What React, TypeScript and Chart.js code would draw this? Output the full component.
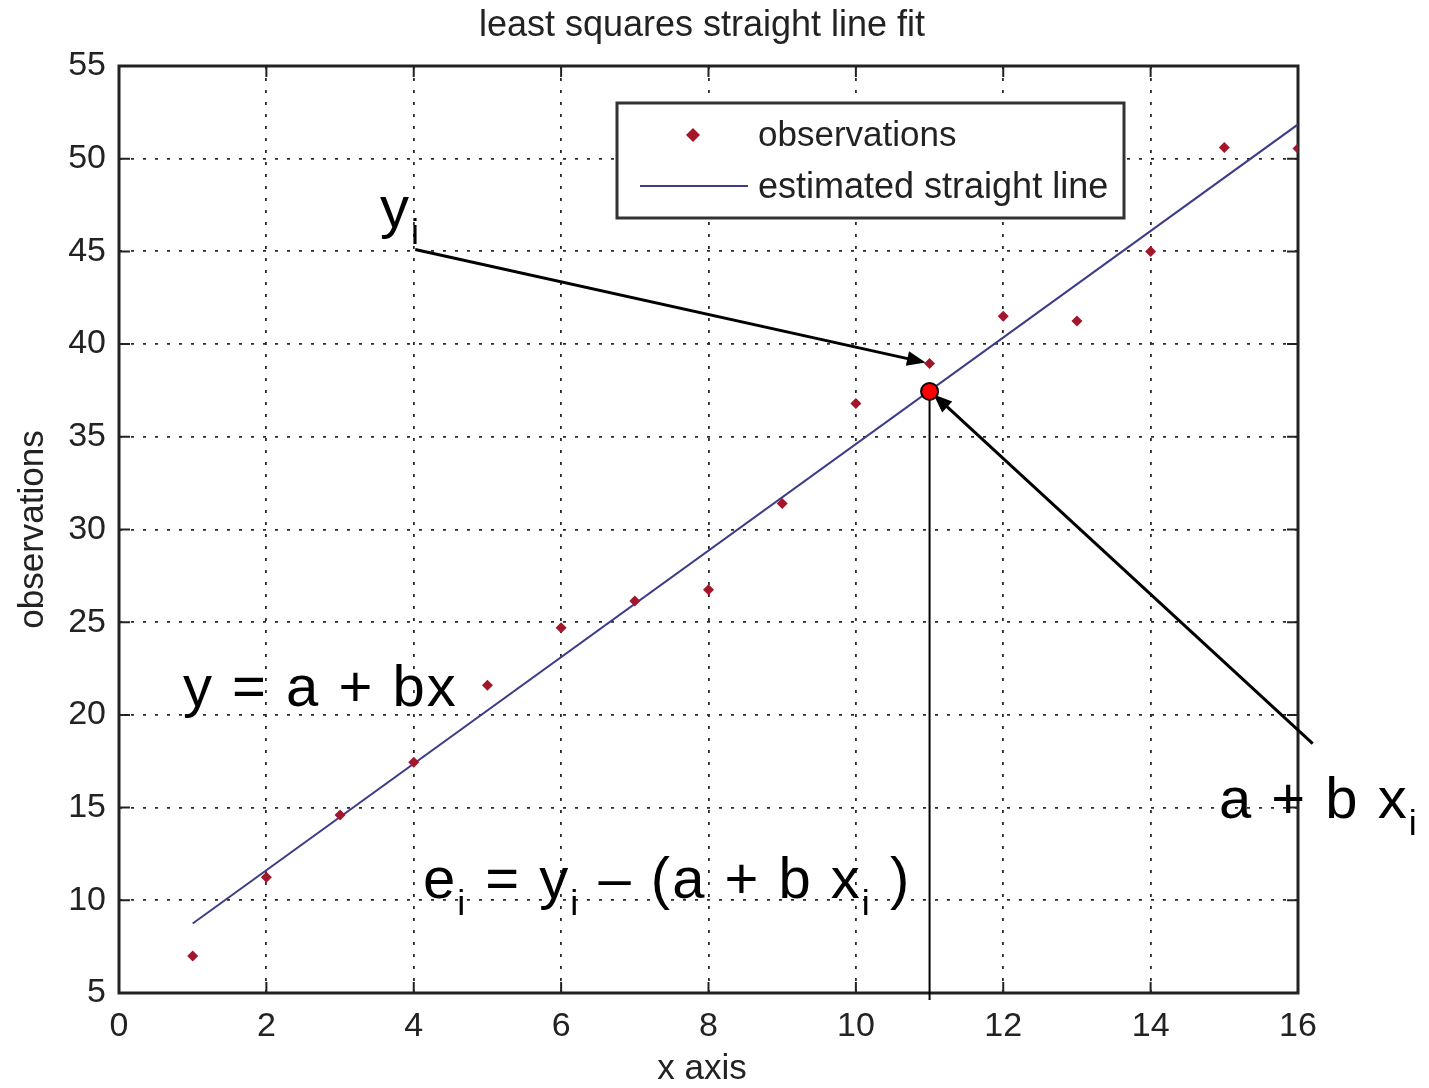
import React, { useEffect, useRef } from "react";
import { Chart, registerables } from "chart.js";

Chart.register(...registerables);

// Observed samples
const xValues = [1, 2, 3, 4, 5, 6, 7, 8, 9, 10, 11, 12, 13, 14, 15, 16];
const observations = [7.0, 11.25, 14.6, 17.45, 21.6, 24.7, 26.15, 26.75, 31.4, 36.8, 38.95, 41.5, 41.25, 45.0, 50.6, 50.55];

// Fitted line end points
const fitX = [1, 16];
const fitY = [8.75, 51.85];

// Highlighted point on the fitted line at x_i
const highlightX = [11];
const highlightY = [37.45];

// Axis ticks
const xTicks = [0, 2, 4, 6, 8, 10, 12, 14, 16];
const yTicks = [5, 10, 15, 20, 25, 30, 35, 40, 45, 50, 55];

const TITLE = "least squares straight line fit";
const X_LABEL = "x axis";
const Y_LABEL = "observations";
const LEGEND_LABELS = ["observations", "estimated straight line"];

const OBS_COLOR = "#a3162c";
const LINE_COLOR = "#3c3c88";
const AXIS_FONT = "'Liberation Sans', Arial, sans-serif";
const NOTE_FONT = "'Liberation Sans', Arial, sans-serif";

function drawArrow(ctx: CanvasRenderingContext2D, x1: number, y1: number, x2: number, y2: number) {
  const ang = Math.atan2(y2 - y1, x2 - x1);
  const head = 20;
  const spread = 0.38;
  ctx.save();
  ctx.strokeStyle = "#000";
  ctx.fillStyle = "#000";
  ctx.lineWidth = 3;
  ctx.beginPath();
  ctx.moveTo(x1, y1);
  ctx.lineTo(x2 - Math.cos(ang) * head * 0.8, y2 - Math.sin(ang) * head * 0.8);
  ctx.stroke();
  ctx.beginPath();
  ctx.moveTo(x2, y2);
  ctx.lineTo(x2 - head * Math.cos(ang - spread), y2 - head * Math.sin(ang - spread));
  ctx.lineTo(x2 - head * Math.cos(ang + spread), y2 - head * Math.sin(ang + spread));
  ctx.closePath();
  ctx.fill();
  ctx.restore();
}

// Draws text made of [text, isSubscript] parts
function drawRich(ctx: CanvasRenderingContext2D, parts: [string, boolean][], x: number, y: number, size: number) {
  let cx = x;
  ctx.save();
  ctx.fillStyle = "#000";
  ctx.textBaseline = "alphabetic";
  ctx.textAlign = "left";
  (ctx as any).letterSpacing = "2px";
  for (const [t, sub] of parts) {
    const s = sub ? size * 0.62 : size;
    ctx.font = `${s}px ${NOTE_FONT}`;
    ctx.fillText(t, cx, sub ? y + size * 0.3 : y);
    cx += ctx.measureText(t).width;
  }
  ctx.restore();
}

const decorations = {
  id: "decorations",
  beforeDatasetsDraw(chart: any) {
    const { ctx, chartArea: a } = chart;
    const xs = chart.scales.x;
    const ys = chart.scales.y;
    // inward tick marks on all four sides
    ctx.save();
    ctx.strokeStyle = "#222";
    ctx.lineWidth = 2;
    const tl = 11;
    for (const v of xTicks) {
      const px = xs.getPixelForValue(v);
      ctx.beginPath();
      ctx.moveTo(px, a.bottom);
      ctx.lineTo(px, a.bottom - tl);
      ctx.moveTo(px, a.top);
      ctx.lineTo(px, a.top + tl);
      ctx.stroke();
    }
    for (const v of yTicks) {
      const py = ys.getPixelForValue(v);
      ctx.beginPath();
      ctx.moveTo(a.left, py);
      ctx.lineTo(a.left + tl, py);
      ctx.moveTo(a.right, py);
      ctx.lineTo(a.right - tl, py);
      ctx.stroke();
    }
    // axes box
    ctx.lineWidth = 3;
    ctx.strokeRect(a.left, a.top, a.right - a.left, a.bottom - a.top);
    ctx.restore();
  },
  afterDraw(chart: any) {
    const { ctx, chartArea: a } = chart;
    const xs = chart.scales.x;
    const ys = chart.scales.y;

    // title and axis labels
    ctx.save();
    ctx.fillStyle = "#222";
    ctx.textAlign = "center";
    ctx.textBaseline = "middle";
    ctx.font = `36px ${AXIS_FONT}`;
    ctx.fillText(TITLE, 702, 26);
    ctx.font = `35px ${AXIS_FONT}`;
    ctx.fillText(X_LABEL, 702, 1069);
    ctx.translate(33, (a.top + a.bottom) / 2);
    ctx.rotate(-Math.PI / 2);
    ctx.fillText(Y_LABEL, 0, 0);
    ctx.restore();

    // legend
    const lx = 617, ly = 103, lw = 507, lh = 115;
    ctx.save();
    ctx.fillStyle = "#fff";
    ctx.fillRect(lx, ly, lw, lh);
    ctx.strokeStyle = "#333";
    ctx.lineWidth = 3;
    ctx.strokeRect(lx, ly, lw, lh);
    ctx.fillStyle = OBS_COLOR;
    ctx.beginPath();
    ctx.moveTo(693, 128);
    ctx.lineTo(700, 135);
    ctx.lineTo(693, 142);
    ctx.lineTo(686, 135);
    ctx.closePath();
    ctx.fill();
    ctx.strokeStyle = LINE_COLOR;
    ctx.lineWidth = 2;
    ctx.beginPath();
    ctx.moveTo(640, 186);
    ctx.lineTo(748, 186);
    ctx.stroke();
    ctx.fillStyle = "#222";
    ctx.textAlign = "left";
    ctx.textBaseline = "middle";
    ctx.font = `35px ${AXIS_FONT}`;
    ctx.fillText(LEGEND_LABELS[0], 758, 136);
    ctx.font = `36px ${AXIS_FONT}`;
    ctx.fillText(LEGEND_LABELS[1], 758, 188);
    ctx.restore();

    // residual guide: from the fitted point down past the x axis
    const hx = xs.getPixelForValue(highlightX[0]);
    const hy = ys.getPixelForValue(highlightY[0]);
    ctx.save();
    ctx.strokeStyle = "#000";
    ctx.lineWidth = 2;
    ctx.beginPath();
    ctx.moveTo(hx, hy);
    ctx.lineTo(hx, a.bottom + 7);
    ctx.stroke();
    ctx.restore();

    // arrows to y_i and to a + b x_i
    const ox = xs.getPixelForValue(xValues[10]);
    const oy = ys.getPixelForValue(observations[10]);
    drawArrow(ctx, xs.getPixelForValue(4.02), ys.getPixelForValue(45.1), ox - 4, oy - 1);
    drawArrow(ctx, xs.getPixelForValue(16.2), ys.getPixelForValue(18.45), hx + 4, hy + 3);

    // highlighted point
    ctx.save();
    ctx.fillStyle = "#ff0000";
    ctx.strokeStyle = "#000";
    ctx.lineWidth = 2;
    ctx.beginPath();
    ctx.arc(hx, hy, 8.5, 0, Math.PI * 2);
    ctx.fill();
    ctx.stroke();
    ctx.restore();

    // equations
    drawRich(ctx, [["y", false], ["i", true]], 380, 227, 58);
    drawRich(ctx, [["y = a + bx", false]], 183, 706, 58);
    drawRich(ctx, [["e", false], ["i", true], [" = y", false], ["i", true], [" \u2013 (a + b x", false], ["i", true], [" )", false]], 423, 898, 58);
    drawRich(ctx, [["a + b x", false], ["i", true]], 1219, 818, 58);
  },
};

export default function App() {
  const ref = useRef<HTMLCanvasElement | null>(null);

  useEffect(() => {
    if (!ref.current) return;
    const obsData = xValues.map((x, i) => ({ x, y: observations[i] }));
    const fitData = fitX.map((x, i) => ({ x, y: fitY[i] }));
    const chart = new Chart(ref.current, {
      type: "scatter",
      data: {
        datasets: [
          {
            label: LEGEND_LABELS[1],
            data: fitData,
            showLine: true,
            borderColor: LINE_COLOR,
            borderWidth: 2,
            pointRadius: 0,
            order: 2,
          },
          {
            label: LEGEND_LABELS[0],
            data: obsData,
            pointStyle: "rectRot",
            pointRadius: 5.5,
            backgroundColor: OBS_COLOR,
            borderColor: OBS_COLOR,
            borderWidth: 0,
            order: 1,
          },
        ],
      },
      options: {
        responsive: false,
        animation: false,
        devicePixelRatio: 1,
        layout: { padding: { top: 66, right: 131, left: 0, bottom: 0 } },
        plugins: {
          legend: { display: false },
          title: { display: false },
          tooltip: { enabled: false },
        },
        scales: {
          x: {
            type: "linear",
            min: 0,
            max: 16,
            afterBuildTicks: (s: any) => {
              s.ticks = xTicks.map((v) => ({ value: v }));
            },
            afterFit: (s: any) => {
              s.height = 95;
            },
            ticks: {
              color: "#222",
              font: { size: 34, family: AXIS_FONT },
              padding: 13,
              maxRotation: 0,
            },
            grid: {
              color: "#2a2a2a",
              lineWidth: 1.8,
              drawTicks: false,
            },
            border: { display: false, dash: [3, 9] },
          },
          y: {
            type: "linear",
            min: 5,
            max: 55,
            afterBuildTicks: (s: any) => {
              s.ticks = yTicks.map((v) => ({ value: v }));
            },
            afterFit: (s: any) => {
              s.width = 119;
            },
            ticks: {
              color: "#222",
              font: { size: 34, family: AXIS_FONT },
              padding: 13,
            },
            grid: {
              color: "#2a2a2a",
              lineWidth: 1.8,
              drawTicks: false,
            },
            border: { display: false, dash: [3, 9] },
          },
        },
      },
      plugins: [decorations],
    } as any);
    return () => chart.destroy();
  }, []);

  return (
    <div style={{ position: "absolute", left: 0, top: 0, width: 1429, height: 1088, background: "#fff" }}>
      <canvas ref={ref} width={1429} height={1088} style={{ width: 1429, height: 1088, display: "block" }} />
    </div>
  );
}
